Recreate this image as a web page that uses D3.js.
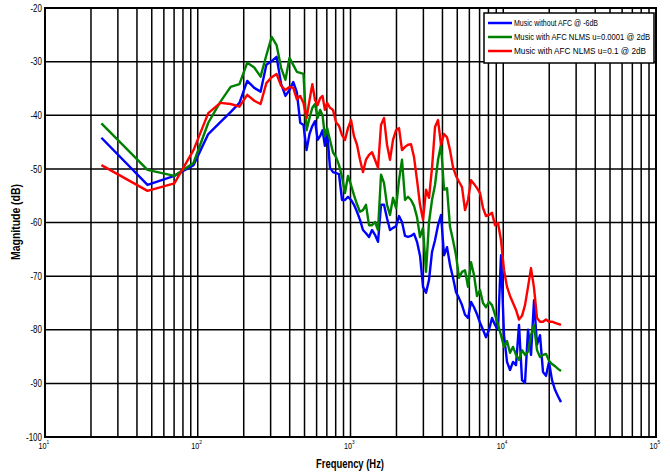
<!DOCTYPE html>
<html>
<head>
<meta charset="utf-8">
<script src="https://cdn.jsdelivr.net/npm/d3@7"></script>
<style>
  body { margin: 0; background: #fff; }
  text { font-family: "Liberation Sans", Arial, sans-serif; }
</style>
</head>
<body>
<div id="chart-area"></div>
<script>
// frequency bins (Hz) shared by the three curves
const freqs = [23.4, 46.9, 70.3, 93.8, 117.2, 140.6, 164.1, 187.5, 210.9, 234.4, 257.8, 281.3, 304.7, 328.1, 351.6, 375, 398.4, 421.9, 445.3, 468.8, 492.2, 515.6, 539.1, 562.5, 585.9, 609.4, 632.8, 656.3, 679.7, 703.1,
  734, 768, 804, 841, 880, 920, 963, 1008, 1054, 1103, 1154, 1207, 1263, 1322, 1383, 1447, 1514, 1584, 1657, 1734, 1814, 1898, 1986, 2078, 2174, 2275, 2380, 2490, 2605, 2726, 2852, 2984, 3122, 3266, 3417, 3575, 3741, 3914, 4095, 4284, 4482, 4690, 4907, 5134, 5371, 5620, 5880, 6152, 6436, 6734, 7045, 7371, 7712, 8069, 8442, 8833, 9241, 9669, 10116, 10584, 11074, 11586, 12122, 12683, 13270, 13883, 14526, 15197, 15900, 16635, 17405, 18210, 19052, 19933, 20855, 21820, 22829, 23885]

// Music without AFC @ -6dB
const noAfc = [-44.2, -53.0, -51.3, -49.3, -43.5, -41.3, -39.4, -37.7, -33.6, -34.9, -35.6, -30.6, -29.9, -29.1, -34.2, -36.4, -35.3, -33.8, -35.7, -41.4, -41.8, -46.5, -43.5, -42.0, -41.1, -44.6, -43.9, -42.8, -45.7, -42.9,
  -49.8, -50.6, -50.8, -51.0, -55.8, -55.8, -55.2, -55.8, -56.7, -58.0, -59.5, -61.4, -62.0, -62.7, -61.4, -62.3, -63.6, -56.7, -56.7, -59.2, -61.4, -61.0, -60.7, -58.8, -59.9, -62.5, -62.7, -62.5, -62.1, -63.6, -66.2, -72.0, -73.1, -70.7, -65.5, -63.3, -60.5, -58.6, -66.1, -64.6, -67.9, -70.3, -73.0, -74.1, -75.4, -77.2, -77.8, -74.8, -75.8, -77.1, -78.7, -80.0, -81.4, -80.0, -77.8, -79.1, -80.0, -66.1, -81.0, -86.0, -87.5, -86.0, -86.6, -79.1, -89.4, -89.9, -80.0, -84.7, -74.5, -82.8, -81.0, -87.9, -88.6, -86.0, -89.4, -91.2, -92.4, -93.5]

// Music with AFC NLMS u=0.0001 @ 2dB
const nlmsSlow = [-41.5, -50.2, -51.3, -48.9, -41.4, -37.5, -34.7, -34.2, -30.2, -31.1, -32.8, -28.8, -25.4, -26.9, -31.2, -33.4, -29.3, -30.6, -31.9, -32.1, -32.3, -42.8, -40.5, -38.6, -37.9, -40.5, -39.0, -40.0, -43.9, -42.4,
  -44.6, -46.9, -47.8, -49.3, -51.5, -54.5, -51.3, -53.0, -54.9, -56.6, -58.0, -57.7, -56.7, -60.5, -60.5, -59.9, -61.4, -51.1, -52.6, -56.7, -58.6, -55.4, -57.3, -52.1, -48.3, -55.8, -55.2, -55.8, -56.9, -59.0, -62.7, -61.0, -69.2, -59.9, -55.8, -53.0, -48.3, -45.5, -53.9, -53.6, -60.8, -63.3, -66.1, -70.3, -69.2, -68.9, -72.0, -67.4, -69.8, -73.7, -72.6, -75.0, -75.8, -74.8, -75.4, -77.2, -79.1, -81.0, -83.2, -82.1, -84.3, -83.2, -84.7, -85.6, -83.8, -84.7, -84.1, -81.0, -79.1, -83.8, -85.1, -84.7, -84.5, -85.8, -86.4, -86.8, -87.3, -87.7]

// Music with AFC NLMS u=0.1 @ 2dB
const nlmsFast = [-49.3, -54.1, -52.7, -46.5, -39.6, -37.7, -37.9, -38.4, -36.2, -37.3, -37.9, -34.0, -32.9, -32.3, -34.5, -35.3, -34.7, -34.9, -37.0, -36.4, -37.7, -40.5, -37.2, -34.2, -37.2, -38.1, -36.8, -36.4, -39.0, -37.7,
  -38.6, -39.0, -41.3, -42.0, -43.7, -44.6, -42.4, -40.9, -43.9, -45.5, -48.3, -50.6, -48.3, -47.4, -46.9, -48.3, -49.8, -41.8, -40.5, -45.5, -48.3, -44.6, -42.8, -42.4, -46.5, -45.9, -45.5, -45.4, -47.8, -52.1, -56.7, -59.5, -53.9, -55.4, -49.8, -42.2, -40.9, -45.5, -43.5, -44.1, -46.5, -49.7, -51.3, -52.4, -53.4, -57.7, -55.8, -52.1, -52.8, -53.6, -54.5, -57.3, -58.8, -58.6, -58.2, -60.5, -60.1, -63.3, -68.9, -72.0, -73.7, -75.0, -76.3, -78.1, -77.4, -75.4, -72.0, -68.5, -72.2, -77.8, -78.5, -78.5, -78.1, -78.5, -78.5, -78.7, -78.9, -79.1]

const seriesNames = ["Music without AFC @ -6dB", "Music with AFC NLMS u=0.0001 @ 2dB", "Music with AFC NLMS u=0.1 @ 2dB"]
const seriesColors = ["#0000ff", "#008000", "#ff0000"]
const yTicks = [-100, -90, -80, -70, -60, -50, -40, -30, -20]
const decades = [10, 100, 1000, 10000, 100000]

const W = 670, H = 474
const MARGIN = { LEFT: 45, RIGHT: 14, TOP: 8, BOTTOM: 37 }
const NARROW = 0.8  // the original uses a condensed face

const svg = d3.select("#chart-area").append("svg")
    .attr("width", W)
    .attr("height", H)

const x = d3.scaleLog().domain([10, 100000]).range([MARGIN.LEFT, W - MARGIN.RIGHT])
const y = d3.scaleLinear().domain([-100, -20]).range([H - MARGIN.BOTTOM, MARGIN.TOP])

// grid: lines at 1..9 of each decade
let gridX = []
for (let d = 10; d < 100000; d *= 10) {
    for (let m = 1; m < 10; m++) gridX.push(d * m)
}
gridX.push(100000)

const grid = svg.append("g").attr("class", "grid")
grid.selectAll(".vline")
    .data(gridX)
    .enter().append("line")
        .attr("class", "vline")
        .attr("x1", d => x(d)).attr("x2", d => x(d))
        .attr("y1", y(-20)).attr("y2", y(-100))
        .attr("stroke", "#000")
        .attr("stroke-width", 1.5)
grid.selectAll(".hline")
    .data(yTicks)
    .enter().append("line")
        .attr("class", "hline")
        .attr("x1", x(10)).attr("x2", x(100000))
        .attr("y1", d => y(d)).attr("y2", d => y(d))
        .attr("stroke", "#000")
        .attr("stroke-width", 1.5)

// axes
const yAxis = svg.append("g")
    .attr("transform", `translate(${MARGIN.LEFT},0)`)
    .call(d3.axisLeft(y).tickValues(yTicks).tickSize(0).tickPadding(3).tickFormat(d => String(d)))
yAxis.select(".domain").remove()
yAxis.selectAll("text")
    .style("font-size", "10px")
    .attr("fill", "#000")
    .attr("transform", `scale(${NARROW},1)`)
    .attr("x", -3 / NARROW)

const xAxis = svg.append("g")
    .attr("transform", `translate(0,${H - MARGIN.BOTTOM})`)
    .call(d3.axisBottom(x).tickValues(decades).tickSize(0).tickPadding(6).tickFormat(""))
xAxis.select(".domain").remove()
xAxis.selectAll(".tick text")
    .style("font-size", "9px")
    .attr("fill", "#000")
    .attr("transform", `scale(${NARROW},1)`)
    .attr("dx", "-2")
    .each(function (d) {
        const t = d3.select(this)
        t.append("tspan").text("10")
        t.append("tspan").text(Math.round(Math.log10(d)))
            .attr("dy", "-5").style("font-size", "6px")
    })

// curves
const curves = [noAfc, nlmsSlow, nlmsFast]
const line = d3.line()
    .x(d => x(d[0]))
    .y(d => y(d[1]))

svg.append("g").attr("class", "curves")
  .selectAll("path")
  .data(curves)
  .enter().append("path")
    .attr("fill", "none")
    .attr("stroke", (d, i) => seriesColors[i])
    .attr("stroke-width", 2.4)
    .attr("stroke-linejoin", "round")
    .attr("d", vals => line(vals.map((v, i) => [freqs[i], v])))

// frame
svg.append("rect")
    .attr("x", x(10)).attr("y", y(-20))
    .attr("width", x(100000) - x(10))
    .attr("height", y(-100) - y(-20))
    .attr("fill", "none")
    .attr("stroke", "#000")
    .attr("stroke-width", 2)

// axis titles
svg.append("text")
    .attr("x", 350).attr("y", 468)
    .attr("text-anchor", "middle")
    .attr("textLength", 68).attr("lengthAdjust", "spacingAndGlyphs")
    .style("font-size", "12px").style("font-weight", "bold")
    .text("Frequency (Hz)")
svg.append("text")
    .attr("transform", "translate(20,222) rotate(-90)")
    .attr("text-anchor", "middle")
    .attr("textLength", 76).attr("lengthAdjust", "spacingAndGlyphs")
    .style("font-size", "12px").style("font-weight", "bold")
    .text("Magnitude (dB)")

// legend
const legendWidths = [84, 136, 132]
const legend = svg.append("g").attr("class", "legend")
legend.append("rect")
    .attr("x", 484).attr("y", 13)
    .attr("width", 170).attr("height", 50)
    .attr("fill", "#fff")
    .attr("stroke", "#000")
    .attr("stroke-width", 1.5)
const item = legend.selectAll(".item")
    .data(seriesNames)
    .enter().append("g")
        .attr("class", "item")
        .attr("transform", (d, i) => `translate(0,${23 + i * 14})`)
item.append("line")
    .attr("x1", 488).attr("x2", 512)
    .attr("stroke", (d, i) => seriesColors[i])
    .attr("stroke-width", 2.5)
item.append("text")
    .attr("x", 514).attr("dy", "0.35em")
    .attr("textLength", (d, i) => legendWidths[i]).attr("lengthAdjust", "spacingAndGlyphs")
    .style("font-size", "9.5px")
    .text(d => d)
</script>
</body>
</html>
